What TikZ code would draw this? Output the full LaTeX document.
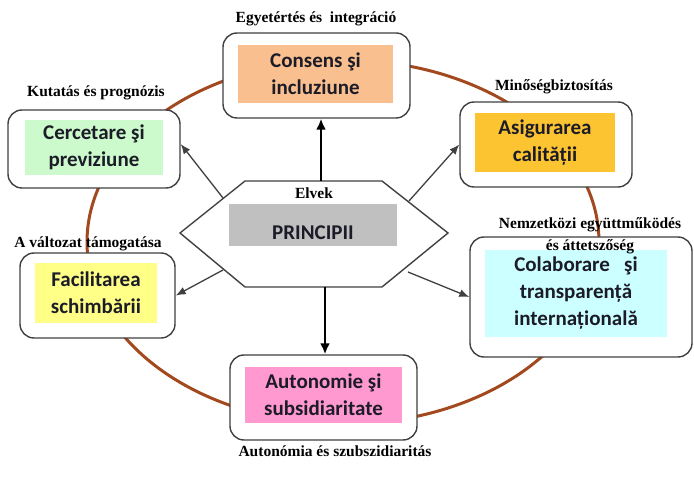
\documentclass[tikz,border=0pt]{standalone}
\usepackage{fontspec}
\setmainfont{Liberation Serif}
\newfontfamily\calfont{Carlito}
\usepackage{tikz}
\usetikzlibrary{arrows.meta}
\usetikzlibrary{backgrounds}

\definecolor{ringbrown}{RGB}{163,73,31}
\definecolor{boxline}{RGB}{64,64,64}
\definecolor{peach}{RGB}{250,191,143}
\definecolor{mint}{RGB}{204,250,204}
\definecolor{gold}{RGB}{253,196,50}
\definecolor{lemon}{RGB}{255,255,136}
\definecolor{aqua}{RGB}{204,255,255}
\definecolor{rose}{RGB}{255,153,208}
\definecolor{hexgray}{RGB}{192,192,192}
\definecolor{inktext}{RGB}{28,28,40}

\tikzset{
  outerbox/.style={draw=boxline, line width=1.4pt, rounded corners=14pt, fill=white},
  innerbox/.style={inner sep=0pt, align=center, text=inktext,
    font=\calfont\bfseries\fontsize{21}{27}\selectfont},
  hulabel/.style={inner sep=0pt, font=\bfseries\fontsize{15.5}{18}\selectfont},
}

\begin{document}
\begin{tikzpicture}[x=1pt,y=-1pt]
\useasboundingbox (0,0) rectangle (694,486);
\draw[ringbrown,line width=3pt] (343,242) ellipse [x radius=256,y radius=182];

% hexagon in the middle
\coordinate (hextl) at (245,181);
\coordinate (hextr) at (382,181);
\coordinate (hexr) at (448,233);
\coordinate (hexbr) at (382,287);
\coordinate (hexbl) at (245,287);
\coordinate (hexl) at (180,233);
\draw[boxline,line width=1.4pt,fill=white] (hextl) -- (hextr) -- (hexr) -- (hexbr) -- (hexbl) -- (hexl) -- cycle;
\node[fill=hexgray,minimum width=168pt,minimum height=42pt] (principii) at (313,225) {};
\node[innerbox] (principiitext) at ([yshift=-8pt]principii.center) {PRINCIPII};
\node[hulabel] (elvek) at (314,193) {Elvek};

% boxes
\node[outerbox,minimum width=187pt,minimum height=85pt] (consensbox) at (316.5,75.5) {};
\node[innerbox,fill=peach,minimum width=155pt,minimum height=58pt] (consens) at (315.5,74) {Consens şi\\incluziune};
\node[hulabel] (consenslabel) at (316,19) {Egyetértés és\ \ integráció};

\node[outerbox,minimum width=172pt,minimum height=78pt] (cercetarebox) at (94,149) {};
\node[innerbox,fill=mint,minimum width=138pt,minimum height=55pt] (cercetare) at (94,147.5) {Cercetare şi\\previziune};
\node[hulabel] (cercetarelabel) at (96,93) {Kutatás és prognózis};

\node[outerbox,minimum width=172pt,minimum height=85pt] (asigurareabox) at (546,144.5) {};
\node[innerbox,fill=gold,minimum width=140pt,minimum height=59pt] (asigurarea) at (545,142.5) {Asigurarea\\calității};
\node[hulabel] (asigurarealabel) at (554,87) {Minőségbiztosítás};

\node[outerbox,minimum width=155pt,minimum height=85pt] (facilitareabox) at (97.5,295.5) {};
\node[innerbox,fill=lemon,minimum width=122pt,minimum height=60pt] (facilitarea) at (96,293) {Facilitarea\\schimbării};
\node[hulabel] (facilitarealabel) at (88,244) {A változat támogatása};

\node[outerbox,minimum width=222pt,minimum height=120pt] (colaborarebox) at (581,297) {};
\node[innerbox,fill=aqua,minimum width=182pt,minimum height=87pt] (colaborare) at (576,293.5) {Colaborare\ \ \ şi\\transparență\\internațională};
\node[hulabel,align=center,font=\bfseries\fontsize{15.5}{22}\selectfont] (colaborarelabel) at (590,236) {Nemzetközi együttműködés\\és áttetszőség};

\node[outerbox,minimum width=187pt,minimum height=85pt] (autonomiebox) at (323.5,397.5) {};
\node[innerbox,fill=rose,minimum width=157pt,minimum height=56pt] (autonomie) at (323.5,395) {Autonomie şi\\subsidiaritate};
\node[hulabel] (autonomielabel) at (335,451) {Autonómia és szubszidiaritás};

% arrows
\coordinate (hextop) at (321,181);
\coordinate (hexbot) at (325,287);
\coordinate (hexul) at (223,198);
\coordinate (hexur) at (409,201);
\coordinate (hexll) at (223,270);
\coordinate (hexlr) at (408,272);
\draw[->,>={Latex[length=11pt,width=10pt]},line width=2.4pt] (hextop) -- (hextop |- consensbox.south);
\draw[->,>={Latex[length=11pt,width=10pt]},line width=2.4pt] (hexbot) -- (hexbot |- autonomiebox.north);
\draw[->,>={Latex[length=10pt,width=8pt]},boxline,line width=1.3pt] (hexul) -- ([yshift=5pt]cercetarebox.east);
\draw[->,>={Latex[length=10pt,width=8pt]},boxline,line width=1.3pt] (hexur) -- (asigurareabox.west);
\draw[->,>={Latex[length=10pt,width=8pt]},boxline,line width=1.3pt] (hexll) -- (facilitareabox.east);
\draw[->,>={Latex[length=10pt,width=8pt]},boxline,line width=1.3pt] (hexlr) -- (colaborarebox.west);
\end{tikzpicture}
\end{document}
